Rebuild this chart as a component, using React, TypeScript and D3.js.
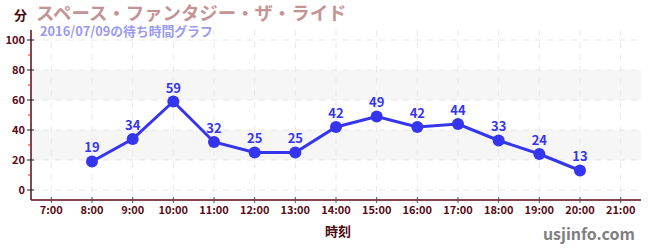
import React from "react";
import * as d3 from "d3";

const hours = [8, 9, 10, 11, 12, 13, 14, 15, 16, 17, 18, 19, 20];
const waits = [19, 34, 59, 32, 25, 25, 42, 49, 42, 44, 33, 24, 13];
const xTicks = [7, 8, 9, 10, 11, 12, 13, 14, 15, 16, 17, 18, 19, 20, 21];
const yTicks = [0, 20, 40, 60, 80, 100];
const yMinorTicks = [10, 30, 50, 70, 90];
const bands = [[20, 40], [60, 80]];
const title = "スペース・ファンタジー・ザ・ライド";
const subtitle = "2016/07/09の待ち時間グラフ";

const W = 650, H = 250;
const left = 31, right = 641, top = 30, bottom = 200;

export default function App() {
  const x = d3.scaleLinear().domain([6.5, 21.5]).range([left, right]);
  const y = d3.scaleLinear().domain([-6.67, 106.67]).range([bottom, top]);
  const line = d3.line<number>().x((_, i) => x(hours[i])).y((d) => y(d));
  const font = "'Noto Sans CJK JP', 'Noto Sans', sans-serif";
  const axisCol = "#5a0a14";
  return (
    <svg width={W} height={H} style={{ position: "absolute", left: 0, top: 0, fontFamily: font }}>
      {bands.map(([a, b], i) => (
        <rect key={i} x={left} y={y(b)} width={right - left} height={y(a) - y(b)} fill="#f6f6f6" />
      ))}
      {yTicks.map((t) => (
        <line key={t} x1={left} x2={right} y1={y(t)} y2={y(t)} stroke="#e8e8e8" strokeDasharray="6,6" />
      ))}
      {xTicks.map((t) => (
        <line key={t} x1={x(t)} x2={x(t)} y1={top} y2={bottom} stroke="#e8e8e8" strokeDasharray="6,6" />
      ))}
      <line x1={left} x2={left} y1={top} y2={bottom} stroke={axisCol} strokeWidth={1.5} />
      <line x1={left} x2={right} y1={bottom} y2={bottom} stroke={axisCol} strokeWidth={1.5} />
      {yTicks.map((t) => (
        <g key={t}>
          <line x1={left - 4} x2={left + 3} y1={y(t)} y2={y(t)} stroke="#222" strokeWidth={1} />
          <text x={left - 6} y={y(t)} dy="0.35em" textAnchor="end" fontSize={11} fontWeight="bold" fill={axisCol}>{t}</text>
        </g>
      ))}
      {yMinorTicks.map((t) => (
        <line key={t} x1={left - 3} x2={left} y1={y(t)} y2={y(t)} stroke="#d22" strokeWidth={1} />
      ))}
      {xTicks.map((t) => (
        <g key={t}>
          <line x1={x(t)} x2={x(t)} y1={bottom - 3} y2={bottom + 3} stroke="#555" strokeWidth={1} />
          <text x={x(t)} y={bottom + 14} textAnchor="middle" fontSize={11} fontWeight="bold" fill={axisCol}>{`${t}:00`}</text>
        </g>
      ))}
      <path d={line(waits) || ""} fill="none" stroke="#3535ee" strokeWidth={3} />
      {waits.map((v, i) => (
        <g key={i}>
          <circle cx={x(hours[i])} cy={y(v)} r={6} fill="#3535ee" />
          <text x={x(hours[i])} y={y(v) - 9} textAnchor="middle" fontSize={13} fontWeight="bold" fill="#3535ee">{v}</text>
        </g>
      ))}
      <text x={14} y={20} fontSize={13} fontWeight="bold" fill="#4a0a10">分</text>
      <text x={36} y={20} fontSize={18.4} fontWeight="bold" fill="#c49494">{title}</text>
      <text x={40} y={36} fontSize={12.8} fontWeight="bold" fill="#9a9af0">{subtitle}</text>
      <text x={338} y={236} textAnchor="middle" fontSize={13} fontWeight="bold" fill="#4a0a10">時刻</text>
      <text x={635} y={240} textAnchor="end" fontSize={16} fontWeight="bold" fill="#808080">usjinfo.com</text>
    </svg>
  );
}
